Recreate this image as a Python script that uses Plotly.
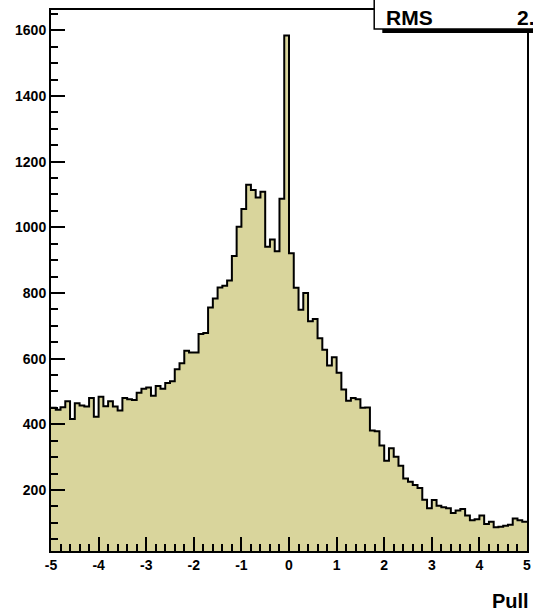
import numpy as np
import plotly.graph_objects as go

# pull distribution, 100 bins from -5 to 5
bin_lo = -5.0
bin_hi = 5.0
counts = [450, 444, 452, 470, 416, 464, 457, 454, 480, 423,
          484, 455, 470, 454, 442, 480, 476, 474, 496, 508,
          512, 487, 517, 508, 526, 531, 568, 586, 624, 619,
          619, 675, 678, 756, 783, 817, 822, 838, 913, 1002,
          1056, 1130, 1114, 1091, 1108, 941, 963, 927, 1087, 1584,
          921, 816, 749, 800, 714, 721, 662, 627, 579, 604,
          557, 506, 472, 480, 476, 450, 451, 381, 379, 335,
          289, 327, 301, 274, 235, 225, 215, 206, 170, 144,
          169, 152, 147, 144, 130, 137, 142, 122, 108, 111,
          122, 96, 103, 86, 88, 91, 94, 113, 108, 103]
x_ticks = [-5, -4, -3, -2, -1, 0, 1, 2, 3, 4, 5]
y_ticks = [200, 400, 600, 800, 1000, 1200, 1400, 1600]
rms_label = "RMS"
rms_value = "2.091"

edges = np.linspace(bin_lo, bin_hi, len(counts) + 1)
ys = counts + [counts[-1]]

FONT = "Liberation Sans"
fill_col = "#d9d59c"

fig = go.Figure()
fig.add_trace(go.Scatter(x=edges, y=ys, mode="lines", line_shape="hv",
                         line=dict(color="black", width=2),
                         fill="tozeroy", fillcolor=fill_col,
                         showlegend=False, hoverinfo="skip"))

fig.update_layout(
    width=533, height=613,
    margin=dict(l=51, r=2, t=10, b=62),
    paper_bgcolor="white", plot_bgcolor="white",
    font=dict(family=FONT, color="black"),
    showlegend=False,
)
fig.update_xaxes(range=[bin_lo, bin_hi], tickvals=x_ticks,
                 ticktext=["<b>%d</b>" % v for v in x_ticks],
                 ticks="inside", ticklen=14, tickwidth=1.5, tickcolor="black",
                 minor=dict(dtick=0.2, tick0=0, ticks="inside", ticklen=7,
                            tickwidth=1.5, tickcolor="black"),
                 showline=True, linecolor="black", linewidth=2, mirror=True,
                 showgrid=False, zeroline=False, tickfont=dict(size=14),
                 ticklabeloverflow="allow")
fig.update_yaxes(range=[14, 1662], tickvals=y_ticks,
                 ticktext=["<b>%d</b>" % v for v in y_ticks],
                 ticks="inside", ticklen=14, tickwidth=1.5, tickcolor="black",
                 minor=dict(dtick=50, tick0=0, ticks="inside", ticklen=7,
                            tickwidth=1.5, tickcolor="black"),
                 showline=True, linecolor="black", linewidth=2, mirror=True,
                 showgrid=False, zeroline=False, tickfont=dict(size=14))

# stats box (clipped by the canvas edge, as in the original)
fig.add_shape(type="rect", xref="paper", yref="paper",
              x0=0.696, x1=1.2, y0=0.9575, y1=1.1,
              fillcolor="black", line=dict(width=0), layer="above")
fig.add_shape(type="rect", xref="paper", yref="paper",
              x0=0.679, x1=1.2, y0=0.965, y1=1.1,
              fillcolor="white", line=dict(color="black", width=1.5), layer="above")
fig.add_annotation(xref="paper", yref="paper", x=0.700, y=0.987,
                   xanchor="left", yanchor="middle", showarrow=False,
                   text="<b>%s</b>" % rms_label, font=dict(size=21))
fig.add_annotation(xref="paper", yref="paper", x=0.974, y=0.987,
                   xanchor="left", yanchor="middle", showarrow=False,
                   text="<b>%s</b>" % rms_value, font=dict(size=21))

fig.add_annotation(xref="paper", yref="paper", x=1.009, y=-0.0924,
                   xanchor="right", yanchor="middle", showarrow=False,
                   text="<b>Pull</b>", font=dict(size=20))

# drop the default 8px body margin so the figure fills the window
fig.write_html("out.html", config={"displayModeBar": False},
               post_script="document.body.style.margin='0';")
